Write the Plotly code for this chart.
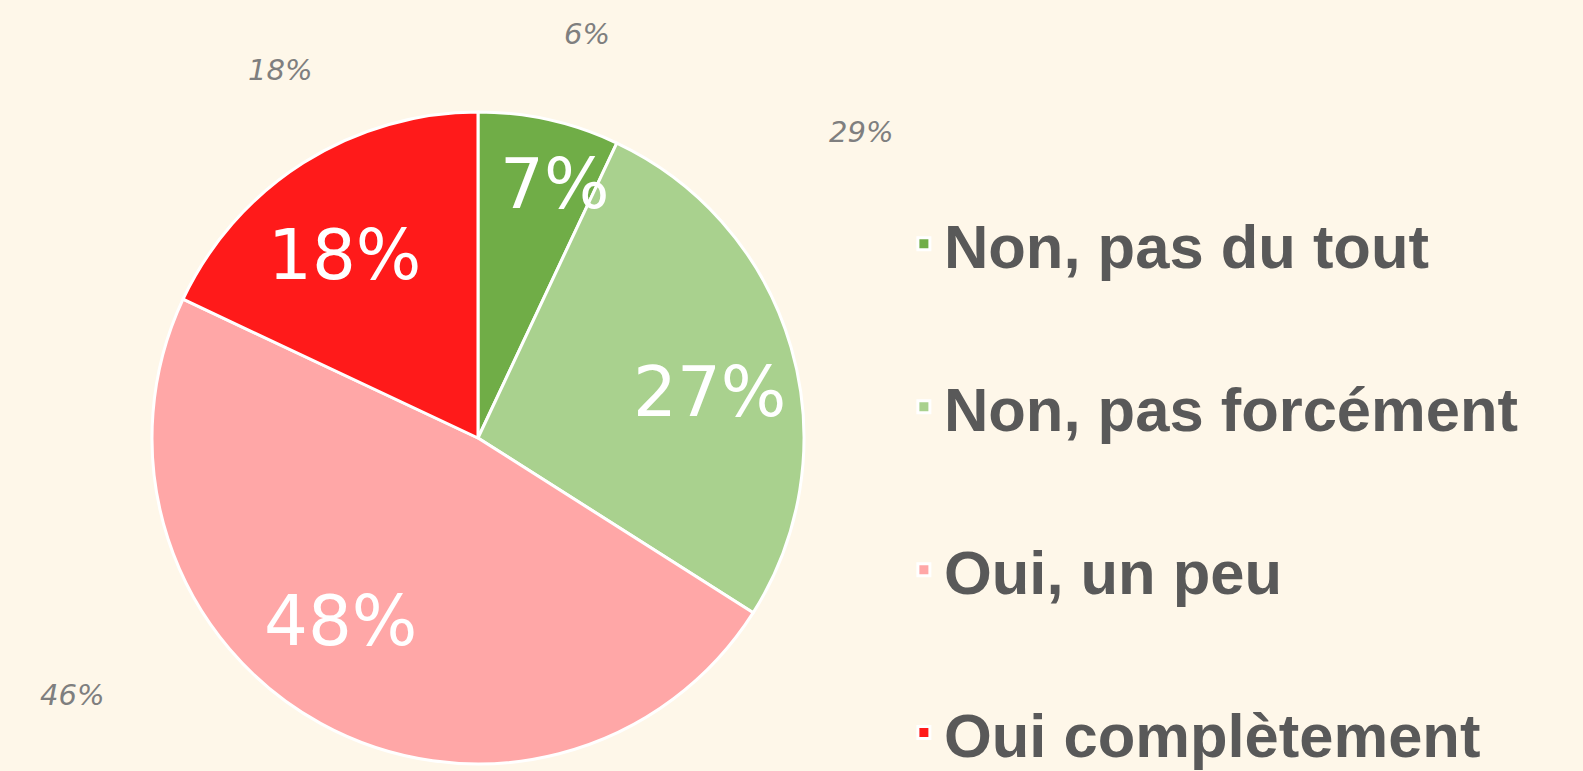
import plotly.graph_objects as go

labels = ["Non, pas du tout", "Non, pas forcément", "Oui, un peu", "Oui complètement"]
values = [7, 27, 48, 18]
previous = [6, 29, 46, 18]
colors = ["#70AD47", "#A9D18E", "#FFA7A7", "#FF1A1A"]

# hand placed label spots (paper coords), one per slice
inside_pos = [(0.3506, 0.7613), (0.4485, 0.4916), (0.2154, 0.1946), (0.2179, 0.6693)]
prev_pos = [(0.3708, 0.9559), (0.5439, 0.8288), (0.0455, 0.0986), (0.1769, 0.9092)]

bg = "#FEF7E9"

# blank second line gives the roomy legend spacing; last one needs none
legend_names = [l + "<br>\u00a0" for l in labels[:-1]] + [labels[-1]]

fig = go.Figure(
    go.Pie(
        labels=legend_names,
        values=values,
        sort=False,
        direction="clockwise",
        rotation=0,
        marker=dict(colors=colors, line=dict(color="white", width=3)),
        textinfo="none",
        domain=dict(x=[0.0960, 0.5079], y=[0.0091, 0.8547]),
        hoverinfo="label+percent",
    )
)

total = sum(values)
for v, (px, py) in zip(values, inside_pos):
    fig.add_annotation(
        x=px, y=py, xref="paper", yref="paper",
        xanchor="center", yanchor="middle",
        text=f"{round(100 * v / total)}%", showarrow=False,
        font=dict(family="DejaVu Sans", size=69, color="white"),
    )

for v, (px, py) in zip(previous, prev_pos):
    fig.add_annotation(
        x=px, y=py, xref="paper", yref="paper",
        xanchor="center", yanchor="middle",
        text=f"<i>{v}%</i>", showarrow=False,
        font=dict(family="DejaVu Sans", size=29, color="#7F7F7F"),
    )

fig.update_layout(
    width=1583,
    height=771,
    margin=dict(l=0, r=0, t=0, b=0, autoexpand=False),
    paper_bgcolor=bg,
    plot_bgcolor=bg,
    showlegend=True,
    legend=dict(
        x=0.571, y=0.744, xanchor="left", yanchor="top",
        valign="top",
        maxheight=900,
        font=dict(family="Liberation Sans", size=61.5, color="#595959", weight="bold"),
        bgcolor="rgba(0,0,0,0)",
    ),
)

fig.write_html(
    "out.html",
    config={"displayModeBar": False},
    post_script="document.body.style.margin='0';document.body.style.overflow='hidden';",
)
